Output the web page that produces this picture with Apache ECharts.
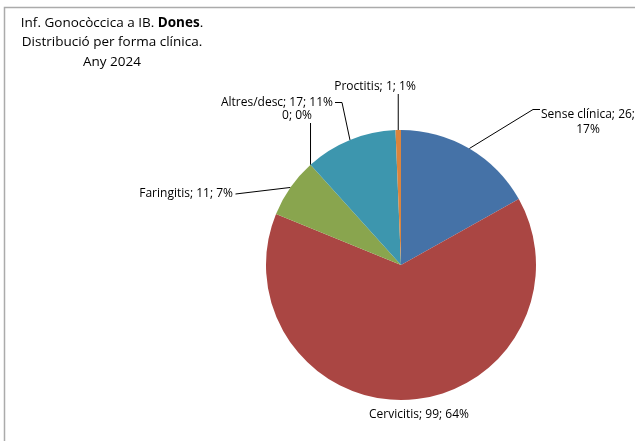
<!DOCTYPE html>
<html>
<head>
<meta charset="utf-8">
<script src="https://cdn.jsdelivr.net/npm/echarts@6/dist/echarts.min.js"></script>
<style>html,body{margin:0;padding:0;background:#fff}#c{width:635px;height:441px}</style>
</head>
<body>
<div id="c"></div>
<script>
var categories = ['Sense clínica', 'Cervicitis', 'Faringitis', '', 'Altres/desc', 'Proctitis'];
var values = [26, 99, 11, 0, 17, 1];
var colors = ['#4572A7', '#AA4643', '#89A54E', '#80699B', '#3D96AE', '#DB843D'];

var FONT = '"Open Sans", "Noto Sans", sans-serif';
// label placement (text anchors) per slice
var labelPlace = [
  {x: 588, y: 122, align: 'center'},
  {x: 419, y: 415, align: 'center'},
  {x: 233, y: 194, align: 'right'},
  {x: 297, y: 116, align: 'center'},
  {x: 333, y: 103, align: 'right'},
  {x: 375, y: 87, align: 'center'}
];

var chart = echarts.init(document.getElementById('c'), null, {renderer: 'canvas'});
var data = categories.map(function (n, i) {
  return {
    name: n, value: values[i],
    itemStyle: {color: colors[i]},
    labelLine: {show: i !== 1}
  };
});

chart.setOption({
  animation: false,
  backgroundColor: '#fff',
  graphic: [{
    type: 'rect', silent: true,
    shape: {x: 4.5, y: 7.5, width: 800, height: 800},
    style: {fill: 'none', stroke: '#ababab', lineWidth: 1.5}
  }],
  title: {
    left: 107, top: 8, textAlign: 'center',
    text: '{a|Inf. Gonocòccica a IB. }{b|Dones}{a|.}\n{a|Distribució per forma clínica.}\n{a|Any 2024}',
    textStyle: {
      fontFamily: FONT, fontSize: 13.5, color: '#000', fontWeight: 'normal', lineHeight: 19.5,
      rich: {
        a: {fontFamily: FONT, fontSize: 13.5, color: '#000', fontWeight: 'normal', lineHeight: 19.5},
        b: {fontFamily: FONT, fontSize: 13.5, color: '#000', fontWeight: 'bold', lineHeight: 19.5}
      }
    }
  },
  series: [{
    type: 'pie',
    center: [401, 265],
    radius: 135,
    startAngle: 90,
    clockwise: true,
    avoidLabelOverlap: false,
    minShowLabelAngle: 0,
    emphasis: {disabled: true},
    data: data,
    label: {
      show: true, position: 'outside',
      fontFamily: FONT, fontSize: 12, color: '#000', lineHeight: 15,
      formatter: function (p) {
        var pct = Math.round(p.percent) + '%';
        if (!p.name) return p.value + '; ' + pct;
        var sep = p.dataIndex === 0 ? ';\n' : '; ';
        return p.name + '; ' + p.value + sep + pct;
      }
    },
    labelLine: {show: true, length: 10, length2: 10, lineStyle: {color: '#000', width: 1}},
    labelLayout: function (p) {
      var lp = labelPlace[p.dataIndex];
      var res = {x: lp.x, y: lp.y, align: lp.align, verticalAlign: 'middle'};
      var a = p.labelLinePoints && p.labelLinePoints[0];
      if (a) {
        var i = p.dataIndex;
        if (i === 0) res.labelLinePoints = [a, [533, 109.5], [540, 109.5]];
        else if (i === 2) res.labelLinePoints = [a, [235.5, 194]];
        else if (i === 3) res.labelLinePoints = [a, [a[0], 123]];
        else if (i === 4) res.labelLinePoints = [a, [342, 102.5], [335, 102.5]];
        else if (i === 5) res.labelLinePoints = [a, [a[0], 94]];
      }
      return res;
    }
  }]
});
</script>
</body>
</html>
